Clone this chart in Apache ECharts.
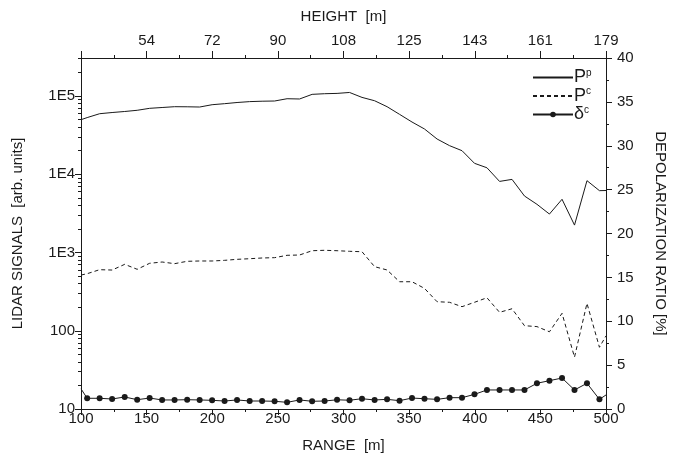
<!DOCTYPE html>
<html>
<head>
<meta charset="utf-8">
<script src="https://cdn.jsdelivr.net/npm/echarts@6/dist/echarts.min.js"></script>
<style>
  html, body { margin: 0; padding: 0; background: #fff; }
  #chart { width: 675px; height: 456px; }
</style>
</head>
<body>
<div id="chart"></div>
<script>
// Range bins [m]; the first and last entries are the plot edges.
const rangeM = [100, 104.7, 114.2, 123.7, 133.3, 142.8, 152.3, 161.8, 171.3, 180.9, 190.4,
  199.9, 209.4, 218.9, 228.5, 238.0, 247.5, 257.0, 266.5, 276.1, 285.6, 295.1, 304.6,
  314.1, 323.7, 333.2, 342.7, 352.2, 361.7, 371.3, 380.8, 390.3, 399.8, 409.3, 418.9,
  428.4, 437.9, 447.4, 456.9, 466.5, 476.0, 485.5, 495.0, 500];

// Parallel-polarized lidar signal P_p [arb. units]
const signalParallel = [49800, 53000, 59400, 61500, 63400, 65700, 69600, 71300, 73000, 72800, 72300,
  77400, 79800, 82600, 84800, 85800, 86300, 92300, 91600, 105000, 107000, 108000, 111000,
  96000, 87000, 73000, 58300, 46500, 37900, 28200, 23200, 20000, 13800, 12100, 8100,
  8600, 5270, 4130, 3100, 4790, 2240, 8280, 6170, 6200];

// Cross-polarized lidar signal P_c [arb. units]
const signalCross = [515, 536, 603, 597, 706, 610, 728, 756, 720, 772, 779,
  779, 794, 818, 833, 851, 859, 921, 929, 1054, 1067, 1054, 1036,
  1023, 659, 598, 423, 423, 348, 235, 231, 203, 231, 264, 172,
  191, 116, 113, 97, 167, 46, 224, 61.5, 86];

// Depolarization ratio delta_c [%]
const depolRatio = [2.3, 1.22, 1.22, 1.14, 1.37, 1.06, 1.25, 1.03, 1.03, 1.06, 1.03,
  0.99, 0.91, 1.03, 0.91, 0.91, 0.88, 0.76, 1.03, 0.88, 0.91, 1.05, 1.0,
  1.17, 1.03, 1.1, 0.95, 1.25, 1.17, 1.1, 1.29, 1.29, 1.67, 2.17, 2.17,
  2.17, 2.17, 2.93, 3.23, 3.53, 2.17, 2.93, 1.1, 1.6];

// Height scale on the top axis (height = range * sin 21 deg)
const heightTickRanges = [150, 200, 250, 300, 350, 400, 450, 500];
const heightTickLabels = ['54', '72', '90', '108', '125', '143', '161', '179'];

// Left logarithmic axis labels
const signalTickValues = [10, 100, 1000, 10000, 100000];
const signalTickLabels = ['10', '100', '1E3', '1E4', '1E5'];
const signalMax = 306000;

// Log-spaced minor ticks (2..9 within each decade)
const signalMinorTicks = [];
[10, 100, 1000, 10000, 100000].forEach(function (d) {
  for (let m = 2; m <= 9; m++) {
    if (d * m <= signalMax) signalMinorTicks.push(d * m);
  }
});

const FONT = "'Liberation Sans', Arial, sans-serif";
const INK = '#1a1a1a';

const edgeIdx = [0, rangeM.length - 1];
function pairs(vals, hideEdgeSymbols) {
  return rangeM.map(function (x, i) {
    if (hideEdgeSymbols && edgeIdx.indexOf(i) >= 0) {
      return { value: [x, vals[i]], symbol: 'none' };
    }
    return [x, vals[i]];
  });
}

const legendNames = { 'P_p': ['P', 'p'], 'P_c': ['P', 'c'], 'δ_c': ['δ', 'c'] };

const chart = echarts.init(document.getElementById('chart'), null, { renderer: 'canvas' });

const axisCommon = {
  axisLine: { show: true, lineStyle: { color: INK, width: 1 } },
  axisTick: { show: true, inside: false, length: 6, lineStyle: { color: INK, width: 1 } },
  minorTick: { show: true, splitNumber: 2, length: 3, lineStyle: { color: INK, width: 1 } },
  splitLine: { show: false },
  nameTextStyle: { fontFamily: FONT, fontSize: 15, color: INK },
  axisLabel: { fontFamily: FONT, fontSize: 15, color: INK }
};

chart.setOption({
  animation: false,
  backgroundColor: '#fff',
  textStyle: { fontFamily: FONT },
  grid: { left: 81, right: 69, top: 58, bottom: 47, containLabel: false, outerBoundsMode: 'none' },
  legend: {
    data: [
      // plain line samples for the two signals, line with dot for the ratio
      { name: 'P_p', itemStyle: { opacity: 0 } },
      { name: 'P_c', itemStyle: { opacity: 0 } },
      { name: 'δ_c' }
    ],
    orient: 'vertical',
    left: 527,
    top: 63,
    itemWidth: 40,
    itemHeight: 7,
    itemGap: 0,
    formatter: function (name) {
      const p = legendNames[name];
      return '{m|' + p[0] + '}{s|' + p[1] + '}';
    },
    textStyle: {
      color: INK,
      padding: [0, 0, 0, -4],
      rich: {
        m: { fontFamily: FONT, fontSize: 18, color: INK, lineHeight: 18.5 },
        s: { fontFamily: FONT, fontSize: 10, color: INK, padding: [0, 0, 9, 0] }
      }
    }
  },
  xAxis: [
    Object.assign({}, axisCommon, {
      type: 'value',
      position: 'bottom',
      min: 100, max: 500, interval: 50,
      name: 'RANGE  [m]',
      nameLocation: 'middle',
      nameGap: 29,
      axisLabel: Object.assign({}, axisCommon.axisLabel, { margin: 2 })
    }),
    Object.assign({}, axisCommon, {
      type: 'value',
      position: 'top',
      min: 100, max: 500, interval: 50,
      name: 'HEIGHT  [m]',
      nameLocation: 'middle',
      nameGap: 34,
      axisTick: Object.assign({}, axisCommon.axisTick, { length: 7 }),
      axisLabel: Object.assign({}, axisCommon.axisLabel, {
        margin: 10,
        formatter: function (v) {
          const i = heightTickRanges.indexOf(v);
          return i >= 0 ? heightTickLabels[i] : '';
        }
      })
    })
  ],
  yAxis: [
    Object.assign({}, axisCommon, {
      type: 'log',
      logBase: 10,
      position: 'left',
      min: 10, max: signalMax,
      name: 'LIDAR SIGNALS  [arb. units]',
      nameLocation: 'middle',
      nameGap: 56,
      nameRotate: 90,
      minorTick: { show: false },
      axisTick: Object.assign({}, axisCommon.axisTick, { customValues: signalTickValues }),
      axisLabel: Object.assign({}, axisCommon.axisLabel, {
        margin: 6,
        customValues: signalTickValues,
        formatter: function (v) {
          let best = 0;
          signalTickValues.forEach(function (t, i) {
            if (Math.abs(Math.log10(t) - Math.log10(v)) < Math.abs(Math.log10(signalTickValues[best]) - Math.log10(v))) best = i;
          });
          return signalTickLabels[best];
        }
      })
    }),
    Object.assign({}, axisCommon, {
      type: 'value',
      position: 'right',
      min: 0, max: 40, interval: 5,
      name: 'DEPOLARIZATION RATIO [%]',
      nameLocation: 'middle',
      nameGap: 47,
      nameRotate: -90,
      axisLabel: Object.assign({}, axisCommon.axisLabel, { margin: 11 })
    }),
    {
      // minor tick marks of the logarithmic signal axis
      type: 'log',
      logBase: 10,
      position: 'left',
      min: 10, max: signalMax,
      axisLine: { show: false },
      splitLine: { show: false },
      axisLabel: { show: false },
      axisTick: { show: true, length: 3, customValues: signalMinorTicks, lineStyle: { color: INK, width: 1 } }
    }
  ],
  series: [
    {
      name: 'P_p',
      type: 'line',
      xAxisIndex: 0, yAxisIndex: 0,
      data: pairs(signalParallel, false),
      showSymbol: false, symbol: 'none',
      lineStyle: { color: INK, width: 1 },
      itemStyle: { color: INK },
      clip: true
    },
    {
      name: 'P_c',
      type: 'line',
      xAxisIndex: 0, yAxisIndex: 0,
      data: pairs(signalCross, false),
      showSymbol: false, symbol: 'none',
      lineStyle: { color: INK, width: 1, type: [4, 3] },
      itemStyle: { color: INK },
      clip: true
    },
    {
      name: 'δ_c',
      type: 'line',
      xAxisIndex: 0, yAxisIndex: 1,
      data: pairs(depolRatio, true),
      symbol: 'circle',
      symbolSize: 6,
      showAllSymbol: true,
      lineStyle: { color: INK, width: 1 },
      itemStyle: { color: INK },
      clip: true
    }
  ]
});
</script>
</body>
</html>
